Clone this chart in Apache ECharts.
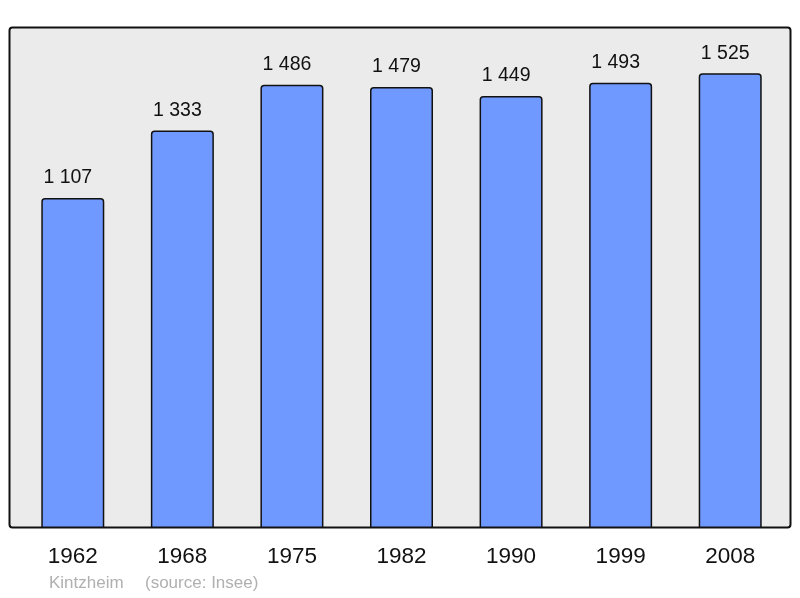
<!DOCTYPE html>
<html>
<head>
<meta charset="utf-8">
<script src="https://cdn.jsdelivr.net/npm/echarts@6/dist/echarts.min.js"></script>
<style>
  html, body { margin: 0; padding: 0; background: #fff; }
  #chart { width: 800px; height: 598px; }
</style>
</head>
<body>
<div id="chart"></div>
<script>
const years = ['1962', '1968', '1975', '1982', '1990', '1999', '2008'];
const population = [1107, 1333, 1486, 1479, 1449, 1493, 1525];
const townName = 'Kintzheim';
const sourceText = '(source: Insee)';

const chart = echarts.init(document.getElementById('chart'));

// format 1107 -> "1 107"
function spaced(v) {
  return String(v).replace(/\B(?=(\d{3})+(?!\d))/g, ' ');
}

const option = {
  animation: false,
  textStyle: { fontFamily: 'Liberation Sans, Arial, sans-serif' },
  grid: { left: 18, right: 15, top: 27, bottom: 70 },
  graphic: [
    {
      type: 'rect',
      z: -10,
      shape: { x: 9.5, y: 27.5, width: 781, height: 500, r: 3 },
      style: { fill: '#ebebeb', stroke: '#111', lineWidth: 2 }
    },
    {
      type: 'text',
      left: 49, top: 575,
      style: { text: townName, fill: '#b0b0b0', fontSize: 17, fontFamily: 'Liberation Sans, Arial, sans-serif' }
    },
    {
      type: 'text',
      left: 145, top: 575,
      style: { text: sourceText, fill: '#b0b0b0', fontSize: 17, fontFamily: 'Liberation Sans, Arial, sans-serif' }
    }
  ],
  xAxis: {
    type: 'category',
    data: years,
    axisLine: { show: false },
    axisTick: { show: false },
    axisLabel: { color: '#111', fontSize: 22.5, margin: 17 }
  },
  yAxis: {
    type: 'value',
    min: 0,
    max: 1680,
    show: false,
    splitLine: { show: false }
  },
  series: [
    {
      type: 'bar',
      data: population,
      barWidth: 63,
      itemStyle: {
        color: '#7099ff',
        borderColor: '#111',
        borderWidth: 1.5,
        borderRadius: [3, 3, 0, 0]
      },
      label: {
        show: true,
        position: 'top',
        distance: 10,
        offset: [-5, 0],
        color: '#111',
        fontSize: 19.5,
        formatter: p => spaced(p.value)
      }
    }
  ]
};

chart.setOption(option);
</script>
</body>
</html>
